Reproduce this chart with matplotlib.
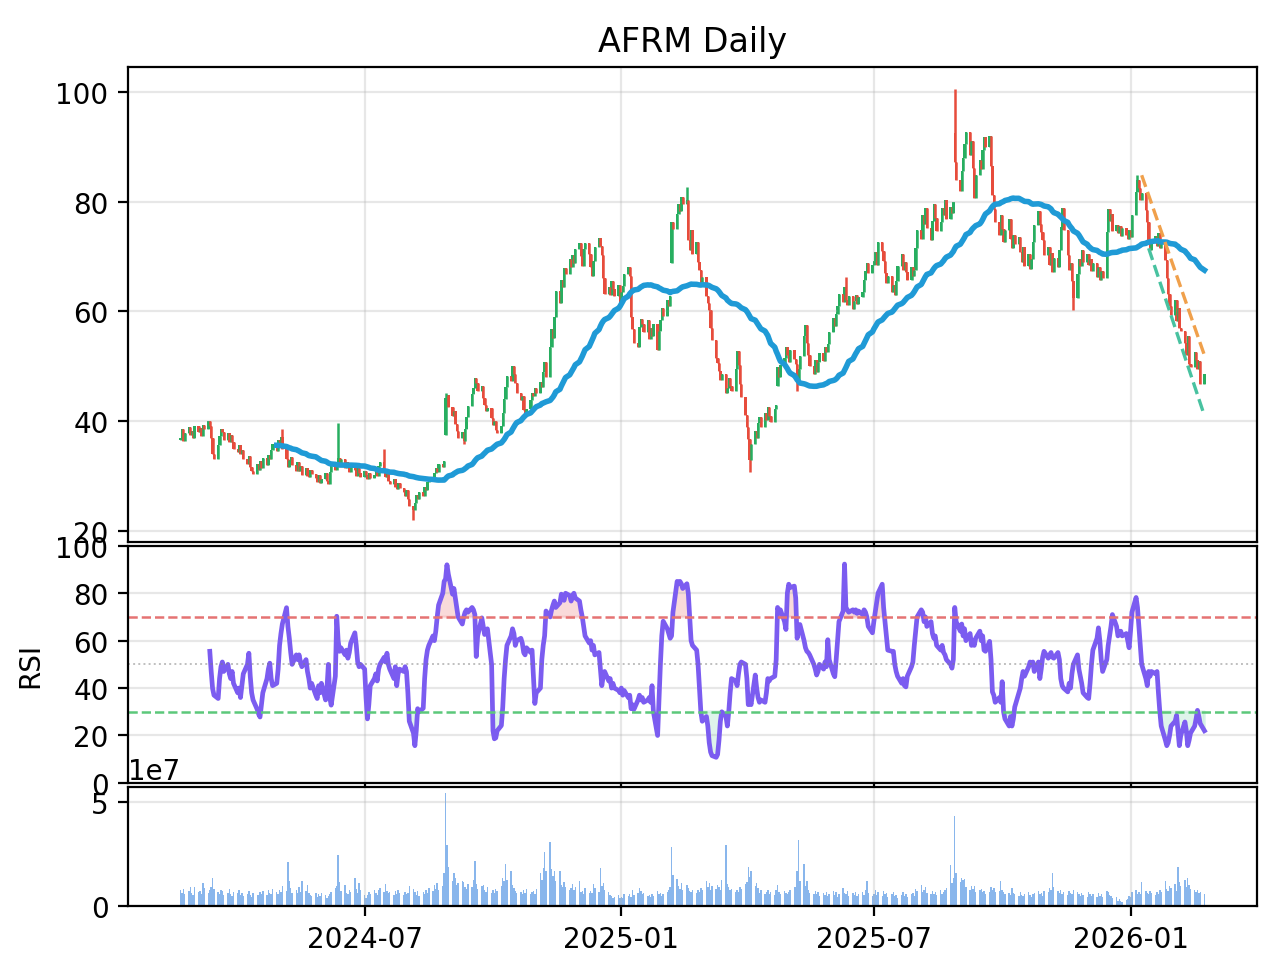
import numpy as np
import pandas as pd
import matplotlib
matplotlib.use('Agg')
import matplotlib.pyplot as plt
import matplotlib.dates as mdates

ticker = 'AFRM'
start_date = '2024-02-20'   # first trading day shown

# daily closes (business days from start_date)
close = [
    37.0, 38.6, 36.4, 37.8, 39.0, 37.5, 38.2, 36.9, 39.1, 38.0,
    38.8, 37.4, 39.3, 38.5, 40.1, 39.2, 37.0, 34.0, 33.2, 35.6,
    37.4, 38.6, 38.0, 36.6, 37.8, 36.3, 37.5, 36.2, 35.0, 34.4,
    35.6, 34.0, 34.8, 33.2, 32.3, 33.6, 31.7, 31.0, 30.4, 32.2,
    31.2, 32.8, 31.5, 33.4, 32.0, 33.9, 33.1, 34.7, 35.8, 34.6,
    36.6, 35.4, 37.2, 35.0, 33.2, 31.6, 32.9, 33.5, 32.1, 31.0,
    32.6, 30.9, 31.8, 30.2, 31.4, 30.0, 29.8, 31.2, 30.4, 29.6,
    29.0, 30.2, 28.8, 29.4, 30.6, 29.1, 28.6, 30.8, 31.9, 31.2,
    32.6, 33.4, 32.0, 33.1, 31.4, 32.6, 31.8, 30.8, 32.0, 31.2,
    30.1, 31.5, 30.6, 29.8, 31.0, 30.2, 29.4, 30.5, 29.6, 30.3,
    31.2, 30.0, 31.8, 32.6, 31.0, 29.8, 30.5, 29.2, 28.6, 29.5,
    28.1, 27.6, 28.8, 27.9, 27.2, 26.4, 27.5, 25.8, 24.6, 23.8,
    25.2, 26.6, 25.9, 27.2, 26.4, 28.0, 27.4, 28.9, 29.8, 29.1,
    30.6, 31.4, 30.8, 32.3, 31.7, 32.8, 44.2, 44.8, 42.6, 41.0,
    41.8, 39.5, 38.2, 37.0, 38.1, 36.4, 38.6, 40.8, 42.7, 44.9,
    46.1, 47.9, 47.0, 45.6, 46.4, 44.2, 43.0, 41.8, 42.5, 40.6,
    39.4, 40.1, 38.4, 37.9, 39.2, 41.5, 44.0, 46.3, 48.2, 47.4,
    50.0, 48.6, 47.0, 45.2, 43.8, 44.6, 42.0, 41.2, 42.3, 43.9,
    45.2, 44.6, 46.0, 45.1, 47.2, 46.3, 48.9, 50.8, 48.0, 53.6,
    56.8, 55.2, 59.0, 63.8, 61.6, 65.8, 64.5, 67.9, 66.8, 69.5,
    68.0, 70.2, 68.9, 71.4, 72.5, 70.1, 68.2, 71.3, 72.4, 70.5,
    68.0, 66.4, 69.2, 71.8, 73.4, 72.0, 70.2, 66.0, 63.2, 64.5,
    63.0, 65.6, 64.1, 62.8, 64.9, 61.2, 63.5, 64.6, 66.8, 68.0,
    66.5, 59.0, 56.8, 54.2, 53.5, 57.2, 58.6, 57.8, 56.2, 58.4,
    55.0, 56.9, 55.6, 57.8, 53.0, 56.5, 58.4, 60.6, 59.2, 62.0,
    61.0, 62.8, 76.2, 75.0, 77.8, 79.6, 78.2, 80.8, 79.5, 80.2,
    73.0, 71.2, 74.8, 70.4, 72.6, 69.0, 67.5, 65.0, 66.2, 62.8,
    61.5, 60.2, 57.0, 54.8, 51.5, 50.6, 49.2, 47.5, 48.6, 45.2,
    46.0, 47.8, 46.4, 45.6, 49.5, 52.8, 50.2, 46.8, 44.5, 41.2,
    39.0, 36.8, 33.0, 35.8, 38.2, 37.0, 39.6, 40.8, 38.9, 41.5,
    40.2, 42.6, 41.0, 39.8, 42.2, 43.0, 49.8, 48.0, 50.2, 51.5,
    53.6, 52.0, 50.8, 52.9, 51.4, 50.5, 47.0, 49.5, 51.8, 55.6,
    57.6, 54.2, 52.0, 50.1, 48.6, 51.2, 49.0, 50.8, 52.4, 51.0,
    53.5, 52.6, 54.0, 56.2, 58.8, 57.4, 59.6, 61.0, 63.2, 61.8,
    64.5, 62.0, 61.2, 62.8, 60.5, 61.9, 63.0, 61.4, 62.6, 63.5,
    65.8, 67.4, 68.9, 67.0, 68.5, 69.2, 70.8, 68.4, 72.6, 71.0,
    69.2, 67.0, 65.2, 66.4, 63.6, 64.8, 63.0, 65.6, 68.2, 70.4,
    67.5, 69.0, 67.2, 65.8, 68.0, 66.4, 67.6, 71.5, 74.8, 73.2,
    77.6, 76.0, 78.8, 75.2, 73.0, 76.4, 79.5, 77.0, 74.6, 76.2,
    78.8, 77.5, 80.2, 76.8, 79.0, 78.0, 80.0, 87.2, 84.0, 82.0,
    85.5, 88.0, 90.5, 92.6, 88.4, 91.0, 86.2, 80.6, 84.8, 87.6,
    86.0, 89.4, 91.8, 90.0, 92.0, 86.5, 81.2, 78.6, 76.2, 74.0,
    77.5, 75.0, 72.6, 74.8, 76.8, 73.2, 71.5, 74.0, 72.2, 73.6,
    70.8, 69.0, 71.8, 68.2, 70.4, 67.8, 69.5, 72.6, 75.8, 78.2,
    76.0, 74.4, 73.0, 70.2, 71.8, 68.5, 70.6, 67.2, 69.8, 68.0,
    71.2, 75.4, 78.8, 74.8, 70.2, 67.5, 68.8, 65.6, 62.4, 66.8,
    69.6, 68.2, 71.2, 69.0, 70.5, 68.4, 69.6, 67.4, 68.8, 66.2,
    68.0, 65.8, 67.4, 66.0, 74.5, 78.6, 76.4, 77.8, 74.6, 75.8,
    74.2, 75.6, 73.8, 75.2, 74.0, 73.2, 74.8, 73.6, 77.5, 81.8,
    84.0, 82.4, 80.2, 81.6, 78.4, 76.2, 73.0, 71.2, 72.4, 73.8,
    72.0, 74.2, 71.6, 72.8, 69.4, 66.0, 63.2, 61.0, 59.4, 62.0,
    58.2, 60.6, 57.0, 56.4, 54.2, 52.0, 55.5, 50.4, 49.8, 52.6,
    51.2, 49.6, 51.0, 46.8, 48.6,
]

# opens differ from the previous close only on gap days
gap_open = {0: 36.5, 136: 37.5, 252: 68.8, 306: 46.5, 397: 92.5}
# visible wick extremes
wick_high = {53: 38.6, 81: 39.6, 104: 35.0, 136: 45.2, 259: 82.6,
             341: 66.2, 397: 100.5, 490: 84.8}
wick_low = {119: 22.0, 145: 35.8, 292: 30.8, 316: 45.6, 458: 60.3}

# volume in millions of shares
volume_m = [
    7.5, 6.2, 8.1, 5.4, 7.0, 8.8, 6.1, 5.2, 9.0, 6.6,
    7.2, 5.8, 11.0, 8.4, 6.0, 7.6, 9.2, 13.5, 8.0, 6.4,
    5.6, 7.8, 6.9, 5.1, 6.3, 8.0, 5.5, 4.8, 6.7, 5.9,
    7.4, 5.0, 6.2, 4.6, 5.8, 7.0, 5.3, 4.4, 6.0, 5.2,
    4.9, 6.4, 5.6, 7.2, 5.0, 7.8, 6.1, 5.4, 8.2, 6.5,
    5.8, 7.4, 6.8, 9.5, 7.0, 21.0, 12.0, 8.6, 6.2, 7.5,
    5.9, 8.8, 6.4, 12.0, 7.2, 10.0, 6.0, 5.1, 4.5, 6.2,
    4.2, 5.6, 4.8, 6.3, 5.0, 3.8, 4.6, 5.5, 6.8, 8.5,
    9.6, 24.3, 11.5, 7.0, 10.0, 6.2, 5.4, 7.8, 6.6, 13.5,
    8.2, 6.0, 11.0, 7.4, 5.2, 3.8, 4.9, 6.5, 5.6, 7.8,
    6.1, 5.0, 7.4, 8.6, 6.8, 10.5, 7.2, 5.9, 6.6, 5.2,
    7.0, 5.4, 7.8, 6.3, 4.9, 6.8, 5.6, 6.0, 9.5, 8.0,
    6.4, 5.1, 7.0, 4.8, 6.6, 5.4, 7.7, 6.2, 8.4, 7.0,
    10.0, 8.2, 11.0, 7.6, 9.4, 16.0, 54.7, 29.3, 18.5, 12.0,
    16.0, 13.5, 9.8, 11.0, 12.0, 11.5, 9.0, 8.2, 10.5, 9.2,
    12.4, 21.8, 10.6, 8.0, 9.6, 10.0, 7.4, 6.8, 8.8, 6.2,
    7.6, 6.0, 8.2, 7.0, 9.4, 13.5, 11.8, 20.0, 12.6, 16.7,
    9.8, 8.4, 7.0, 6.2, 6.8, 5.6, 7.4, 6.0, 8.2, 5.8,
    6.6, 7.2, 5.4, 8.0, 16.0, 12.4, 18.0, 26.0, 17.0, 31.0,
    17.5, 14.2, 16.6, 12.0, 17.0, 10.2, 8.8, 11.6, 9.0, 7.4,
    8.6, 10.4, 7.8, 9.2, 11.8, 6.4, 7.0, 5.8, 8.4, 6.2,
    7.2, 6.0, 10.5, 8.6, 6.8, 18.0, 9.4, 11.0, 7.6, 6.4,
    5.2, 4.6, 3.8, 4.4, 5.0, 3.6, 4.2, 3.9, 5.5, 4.8,
    5.6, 4.4, 7.7, 5.2, 6.0, 8.5, 7.0, 5.4, 6.2, 4.8,
    5.0, 4.2, 5.8, 4.6, 7.2, 5.4, 6.0, 4.8, 5.6, 6.8,
    7.4, 9.0, 28.5, 15.0, 12.7, 9.6, 8.2, 11.0, 7.6, 9.8,
    8.4, 7.2, 6.6, 7.6, 6.0, 7.8, 6.8, 8.6, 7.4, 12.0,
    8.8, 11.0, 7.6, 9.4, 8.2, 10.0, 9.0, 7.8, 12.4, 29.3,
    10.5, 9.2, 7.4, 8.0, 6.8, 7.6, 6.4, 9.0, 8.2, 10.4,
    11.6, 18.5, 14.0, 16.7, 9.6, 11.0, 8.4, 6.2, 7.4, 5.8,
    6.6, 7.8, 5.6, 6.8, 5.2, 7.4, 9.8, 6.4, 5.8, 7.2,
    6.0, 5.4, 6.8, 7.6, 8.8, 9.2, 16.7, 31.8, 12.0, 20.0,
    9.6, 12.0, 7.4, 6.2, 5.8, 7.0, 5.4, 6.6, 4.8, 6.0,
    5.2, 6.8, 4.6, 5.8, 7.2, 5.0, 6.4, 4.4, 5.6, 8.5,
    6.2, 5.4, 7.0, 4.8, 6.0, 5.2, 6.6, 4.6, 5.8, 6.4,
    5.0, 7.4, 12.0, 6.0, 4.6, 5.6, 7.6, 5.2, 6.8, 4.8,
    7.2, 5.4, 6.2, 4.4, 5.8, 6.6, 4.8, 5.2, 3.8, 5.0,
    6.4, 4.6, 5.6, 4.2, 5.4, 6.0, 4.8, 8.2, 7.0, 10.0,
    6.8, 7.6, 9.0, 6.2, 5.4, 7.2, 5.8, 6.6, 5.0, 7.4,
    5.6, 6.4, 7.8, 8.5, 19.5, 10.8, 13.5, 43.5, 16.0, 11.4,
    13.3, 12.6, 13.0, 8.8, 7.6, 9.4, 8.0, 9.6, 6.8, 7.4,
    8.2, 6.4, 7.0, 5.8, 6.6, 9.0, 7.8, 8.4, 6.6, 7.2,
    12.0, 7.6, 6.8, 5.4, 6.2, 5.0, 8.5, 6.0, 5.6, 4.8,
    6.4, 5.2, 4.6, 5.8, 6.6, 5.0, 4.4, 5.6, 6.2, 7.0,
    5.4, 6.0, 4.8, 7.2, 6.4, 8.4, 7.6, 16.0, 8.8, 7.0,
    6.2, 7.8, 5.8, 6.6, 5.2, 7.0, 6.0, 5.4, 7.8, 6.4,
    5.6, 4.8, 6.2, 5.0, 4.4, 6.8, 5.6, 4.6, 5.8, 4.2,
    6.2, 4.8, 5.6, 4.4, 7.0, 6.4, 5.2, 4.6, 3.8, 4.2,
    2.4, 3.2, 2.0, 1.6, 2.6, 3.0, 4.8, 4.0, 6.4, 7.6,
    5.4, 6.6, 5.8, 11.3, 7.0, 6.2, 5.4, 7.2, 6.0, 5.2,
    6.8, 5.6, 7.4, 6.4, 12.0, 8.2, 7.0, 9.6, 8.4, 10.4,
    7.0, 18.8, 11.5, 9.4, 12.6, 8.8, 13.3, 10.0, 8.2, 7.6,
    6.8, 7.4, 6.0, 6.8, 5.6,
]

# RSI(14), aligned to the last dates
rsi = [
    55.5, 47, 39.8, 37, 35.6, 44, 49, 51, 47, 50,
    46, 44, 47, 42, 38, 40, 36, 41, 46, 50,
    54.7, 45, 38, 35, 31, 29, 27.8, 33, 38, 44,
    48, 50.5, 44, 41, 42, 48, 58, 63, 67, 73.9,
    66, 61, 55, 50, 54, 52, 54, 51, 49, 52,
    47, 44, 40, 42, 37, 35.6, 41, 38, 42, 35,
    40, 50, 36, 32.8, 45, 70.3, 60, 55.5, 57, 54,
    56, 52.6, 55, 59, 63.3, 58, 51, 49, 50, 48,
    36, 27, 33, 41, 44, 46, 43, 48, 50, 53,
    51, 54.7, 50, 48, 44, 49, 41, 46, 48, 47,
    49, 47, 38, 26, 21, 15.7, 22, 31.3, 30, 31.5,
    44, 52, 56, 58, 62, 60, 64, 70, 75, 80,
    85, 86, 92, 88, 79.6, 82, 78, 74, 70, 67,
    70, 72, 73, 72, 74, 73, 71, 53.3, 62, 69.6,
    66, 62.6, 64, 65, 50, 22, 18.6, 19, 22, 24.2,
    32, 44, 52, 58, 62, 65, 63, 58, 60, 61,
    59, 55, 54, 57, 55, 56, 45, 33.5, 38, 40,
    52, 58, 62, 72.5, 70, 73, 75, 76.7, 74, 76,
    79.6, 78, 77, 80, 79, 76.7, 79, 80, 78, 76.7,
    73, 70, 66, 62, 59, 60, 56, 58, 54, 55,
    48, 41, 45, 47, 43, 44, 40, 42, 40, 39,
    38, 40, 37, 39, 36, 37, 31.3, 33, 31, 35,
    37, 35, 36, 34, 35, 36, 34, 41, 30, 20,
    35, 50, 62, 68.2, 65, 63, 61, 62, 72, 85,
    84, 85, 84, 82, 84, 80, 70, 60, 58, 56,
    50, 40, 30, 26, 28, 24, 17, 13, 11.5, 10.8,
    12, 18, 26, 30, 28, 24, 30, 38, 44, 43,
    41, 46, 50, 51, 50, 44, 33, 35, 33, 45.5,
    40, 36, 34, 35, 34, 38, 44, 43, 44, 45,
    52, 74, 72.5, 73, 68, 64.7, 80, 83.8, 82.4, 83,
    78, 61, 64, 66.8, 60, 57, 55.5, 55, 54, 50,
    48, 45.5, 47, 50, 48, 51, 49, 60.4, 52, 46,
    44.8, 52, 60, 68, 72.5, 92.3, 74, 73, 72, 73,
    72, 73, 71.5, 72.5, 71, 73, 72, 70, 66, 63.3,
    68, 72, 76, 80, 83.8, 74, 68.2, 62, 56, 55.5,
    55.5, 50, 47, 45, 42, 44, 41, 40.5, 45, 49,
    51, 58, 64, 70, 73, 72, 68, 70, 66, 68,
    63, 61, 62, 58, 56, 58, 55, 54, 52, 50,
    48.4, 52, 74, 68, 64, 67, 62, 65, 60, 63,
    58, 60, 58, 61, 64, 60, 62, 56, 55.5, 59.7,
    52, 38.4, 37, 34, 36, 34, 42.7, 30, 27, 24,
    28, 24, 27, 32, 38, 40, 44, 47, 45, 49,
    51, 50, 51, 47, 51, 44, 48, 53, 55.5, 52.6,
    54, 55, 53, 52.6, 55, 52, 44, 41, 40, 38.4,
    42, 40, 46, 50, 54, 48, 45, 42, 38, 36,
    35.6, 42, 50, 56, 61, 65.4, 60, 52, 47, 52,
    58, 62, 66, 71, 66, 62, 63, 64, 62, 63,
    60, 57, 64, 72, 78.2, 74, 66, 58, 50, 44,
    41, 47, 45, 47, 46, 47, 38, 30, 24, 18,
    15.7, 17, 20, 24, 26, 28.5, 22, 15.7, 20, 25.7,
    22, 15.7, 18, 21, 24, 27, 30.6, 28, 25, 22,
]

# trend lines drawn at the end of the chart
res_dates = ['2026-01-09', '2026-02-23']
res_vals = [84.8, 52.0]
sup_dates = ['2026-01-14', '2026-02-23']
sup_vals = [71.5, 41.0]

sma_window = 50

# ---- build frame ----
dates = pd.bdate_range(start_date, periods=len(close))
c = np.array(close)
o = np.r_[c[0], c[:-1]]
for k, v in gap_open.items():
    o[k] = v
hi = np.maximum(o, c)
lo = np.minimum(o, c)
for k, v in wick_high.items():
    hi[k] = max(hi[k], v)
for k, v in wick_low.items():
    lo[k] = min(lo[k], v)
vol = np.array(volume_m) * 1e6
sma = pd.Series(c).rolling(sma_window).mean()
rsi_dates = dates[-len(rsi):]
rsi_arr = np.array(rsi, dtype=float)

xd = mdates.date2num(dates)
up_col, dn_col = '#27ae60', '#e74c3c'
cols = np.where(c >= o, up_col, dn_col)

fig, (ax1, ax2, ax3) = plt.subplots(
    3, 1, figsize=(6.4, 4.89), dpi=200, sharex=True,
    gridspec_kw={'height_ratios': [4, 2, 1]})
fig.subplots_adjust(left=0.1, right=0.982, top=0.930, bottom=0.073, hspace=0.015)

# price panel
ax1.vlines(xd, lo, hi, colors=cols, linewidth=0.9)
ax1.bar(xd, np.abs(c - o), bottom=np.minimum(o, c),
        width=1.7, color=cols, linewidth=0)
ax1.plot(xd, sma, color='#1f9ad6', linewidth=2.0)
ax1.plot(mdates.date2num(pd.to_datetime(res_dates)), res_vals,
         color='#f0a04b', linestyle='--', linewidth=1.2)
ax1.plot(mdates.date2num(pd.to_datetime(sup_dates)), sup_vals,
         color='#48c2a0', linestyle='--', linewidth=1.2)
ax1.set_title(f'{ticker} Daily')
ax1.set_yticks([20, 40, 60, 80, 100])
ax1.grid(True, alpha=0.3)

# RSI panel
rx = mdates.date2num(rsi_dates)
ax2.plot(rx, rsi_arr, color='#7b5cf0', linewidth=1.7)
ax2.axhline(70, color='#e57373', linestyle='--', linewidth=0.9)
ax2.axhline(30, color='#5cc87a', linestyle='--', linewidth=0.9)
ax2.axhline(50, color='gray', linestyle=':', linewidth=0.7, alpha=0.5)
ax2.fill_between(rx, rsi_arr, 70, where=rsi_arr >= 70, color='#f4b6b6', alpha=0.5, interpolate=True)
ax2.fill_between(rx, rsi_arr, 30, where=rsi_arr <= 30, color='#bfead8', alpha=0.5, interpolate=True)
ax2.set_ylim(0, 100)
ax2.set_yticks([0, 20, 40, 60, 80, 100])
ax2.set_ylabel('RSI')
ax2.grid(True, alpha=0.3)

# volume panel
ax3.bar(xd, vol, width=1.0, color='#4a90e2', alpha=0.65, linewidth=0)
ax3.set_yticks([0, 5e7])
ax3.grid(True, alpha=0.3)
ax3.xaxis.set_major_locator(mdates.MonthLocator(bymonth=[1, 7]))
ax3.xaxis.set_major_formatter(mdates.DateFormatter('%Y-%m'))

fig.savefig('out.png')
